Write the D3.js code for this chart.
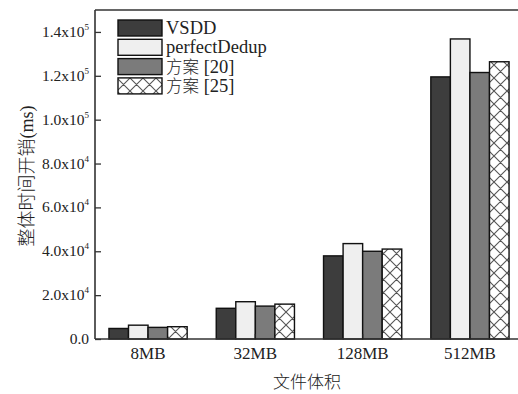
<!DOCTYPE html>
<html><head><meta charset="utf-8">
<script src="https://cdn.jsdelivr.net/npm/d3@7"></script>
<style>
body{margin:0;background:#fff;}
svg{display:block;}
text{font-family:"Liberation Serif","Noto Sans CJK SC",serif;fill:#222;}
.cjk{font-family:"Noto Sans CJK SC",sans-serif;font-weight:300;}
</style></head>
<body>
<svg id="chart" width="518" height="394"></svg>
<script>
const categories = ["8MB", "32MB", "128MB", "512MB"];
const seriesNames = ["VSDD", "perfectDedup", "方案 [20]", "方案 [25]"];
const vsdd = [4800, 14000, 37900, 119500];
const perfectDedup = [6300, 17000, 43500, 136800];
const scheme20 = [5300, 15000, 40000, 121500];
const scheme25 = [5600, 15900, 41000, 126400];
const yTicks = [0, 20000, 40000, 60000, 80000, 100000, 120000, 140000];
const yTickMant = ["0.0", "2.0", "4.0", "6.0", "8.0", "1.0", "1.2", "1.4"];
const yTickExp = ["", "4", "4", "4", "4", "5", "5", "5"];

const seriesValues = [vsdd, perfectDedup, scheme20, scheme25];
const fills = ["#3d3d3d", "#efefef", "#7b7b7b", "url(#hatch)"];

const svg = d3.select("#chart");
const m = {left: 95, top: 10, right: 523, bottom: 339};

const defs = svg.append("defs");
const pat = defs.append("pattern").attr("id", "hatch").attr("patternUnits", "userSpaceOnUse")
  .attr("width", 13).attr("height", 13);
pat.append("rect").attr("width", 13).attr("height", 13).attr("fill", "#fff");
pat.append("path").attr("d", "M0,0L13,13M13,0L0,13M-1,12L1,14M12,-1L14,1M12,14L14,12M-1,1L1,-1")
  .attr("stroke", "#555").attr("stroke-width", 1.1);

const x = d3.scaleBand().domain(categories).range([m.left, m.right]).paddingInner(0.271).paddingOuter(0.13);
const xi = d3.scaleBand().domain(d3.range(4)).range([0, x.bandwidth()]).padding(0);
const y = d3.scaleLinear().domain([0, 150000]).range([m.bottom, m.top]);

// bars
const g = svg.append("g");
categories.forEach((c, ci) => {
  seriesValues.forEach((vals, si) => {
    g.append("rect")
      .attr("x", x(c) + xi(si))
      .attr("y", y(vals[ci]))
      .attr("width", xi.bandwidth())
      .attr("height", y(0) - y(vals[ci]))
      .attr("fill", fills[si])
      .attr("stroke", "#111").attr("stroke-width", 1.4);
  });
});

// frame
svg.append("line").attr("x1", m.left).attr("x2", 518).attr("y1", m.top).attr("y2", m.top)
  .attr("stroke", "#333").attr("stroke-width", 1.6);

// y axis
const yAxis = svg.append("g").attr("transform", `translate(${m.left},0)`)
  .call(d3.axisRight(y).tickValues(yTicks).tickSize(6).tickFormat(""));
yAxis.select(".domain").attr("d", `M0,${m.top}V${m.bottom}`).attr("stroke", "#333").attr("stroke-width", 1.6);
yAxis.selectAll(".tick line").attr("stroke", "#333").attr("stroke-width", 1.3);
yTicks.forEach((t, i) => {
  const tx = svg.append("text").attr("x", 89).attr("y", y(t) + 5).attr("text-anchor", "end")
    .attr("font-size", 15.5);
  if (yTickExp[i] === "") {
    tx.text(yTickMant[i]);
  } else {
    tx.append("tspan").text(yTickMant[i] + "x10");
    tx.append("tspan").attr("dy", -7).attr("font-size", 9).text(yTickExp[i]);
  }
});

// x axis
const xAxis = svg.append("g").attr("transform", `translate(0,${m.bottom})`)
  .call(d3.axisTop(x).tickSize(5).tickFormat(""));
xAxis.select(".domain").attr("d", `M${m.left},0H518`).attr("stroke", "#333").attr("stroke-width", 1.6);
xAxis.selectAll(".tick line").attr("stroke", "#222").attr("stroke-width", 1.2);
categories.forEach(c => {
  svg.append("text").attr("x", x(c) + x.bandwidth() / 2).attr("y", 359).attr("text-anchor", "middle")
    .attr("font-size", 17).text(c);
});

// axis titles
svg.append("text").attr("class", "cjk").attr("x", 307).attr("y", 388).attr("text-anchor", "middle")
  .attr("font-size", 17).text("文件体积");
const yt = svg.append("text").attr("transform", "translate(33,176) rotate(-90)").attr("text-anchor", "middle")
  .attr("font-size", 18);
yt.append("tspan").attr("class", "cjk").text("整体时间开销");
yt.append("tspan").text("(ms)");

// legend
seriesNames.forEach((s, i) => {
  const ly = 20 + i * 19.3;
  svg.append("rect").attr("x", 118).attr("y", ly).attr("width", 44).attr("height", 16)
    .attr("fill", fills[i]).attr("stroke", "#111").attr("stroke-width", 1.4);
  const t = svg.append("text").attr("x", 166).attr("y", ly + 14).attr("font-size", 18.5);
  const mm = s.match(/^([^\x00-\x7f]+)(.*)$/);
  if (mm) {
    t.append("tspan").attr("class", "cjk").attr("font-size", 16.5).text(mm[1]);
    t.append("tspan").text(mm[2]);
  } else {
    t.text(s);
  }
});
</script>
</body></html>
